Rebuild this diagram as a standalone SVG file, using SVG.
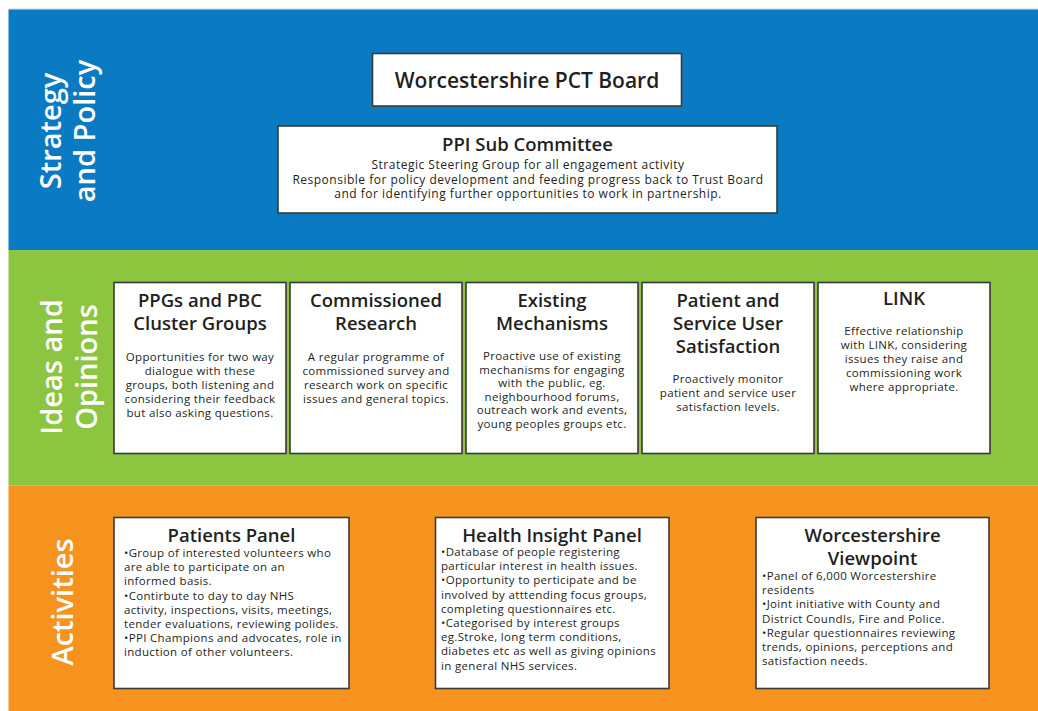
<svg xmlns="http://www.w3.org/2000/svg" width="1038" height="711" viewBox="0 0 1038 711">
  <style>
    .band-label { font-family: "Open Sans", "Liberation Sans", sans-serif; font-weight: 600; font-size: 29px; fill: #ffffff; text-anchor: middle; }
    .box { fill: #ffffff; stroke: #3a3a3a; stroke-width: 1.6; }
    .title { font-family: "Open Sans", "Liberation Sans", sans-serif; font-weight: 600; fill: #231f20; text-anchor: middle; }
    .t21 { font-size: 21px; }
    .t18 { font-size: 18.5px; }
    .body { font-family: "Open Sans", "Liberation Sans", sans-serif; font-weight: 400; fill: #231f20; }
    .b12 { font-size: 12px; letter-spacing: 0.5px; }
    .b11 { font-size: 11.5px; letter-spacing: 0.33px; }
    .mid { text-anchor: middle; }
  </style>

  <!-- background bands -->
  <g id="bands">
    <rect x="0" y="0" width="1038" height="711" fill="#ffffff"/>
    <line x1="8.5" y1="9" x2="1038" y2="9" stroke="#cfcfcf" stroke-width="1"/>
    <rect x="8.5" y="9.5" width="1029.5" height="240.5" fill="#0a7bc3"/>
    <rect x="8.5" y="250" width="1029.5" height="235.5" fill="#8cc540"/>
    <rect x="8.5" y="485.5" width="1029.5" height="225.5" fill="#f6921e"/>
  </g>

  <!-- band headings -->
  <g id="band-labels">
    <text class="band-label" transform="translate(61,131) rotate(-90)">Strategy</text>
    <text class="band-label" transform="translate(95,131) rotate(-90)">and Policy</text>
    <text class="band-label" transform="translate(62,367) rotate(-90)">Ideas and</text>
    <text class="band-label" transform="translate(97,367) rotate(-90)">Opinions</text>
    <text class="band-label" transform="translate(73,602) rotate(-90)">Activities</text>
  </g>

  <!-- connectors: none drawn in this chart -->
  <g id="connectors"/>

  <!-- Strategy and Policy -->
  <g id="pct-board">
    <rect class="box" x="372.5" y="53.5" width="309" height="52.5"/>
    <text class="title t21" x="527" y="88">Worcestershire PCT Board</text>
  </g>

  <g id="ppi-sub-committee">
    <rect class="box" x="278" y="126" width="499" height="87"/>
    <text class="title t18" x="527.5" y="150.5">PPI Sub Committee</text>
    <text class="body b12 mid" x="528" y="169">Strategic Steering Group for all engagement activity</text>
    <text class="body b12 mid" x="528" y="183.5">Responsible for policy development and feeding progress back to Trust Board</text>
    <text class="body b12 mid" x="528" y="198">and for identifying further opportunities to work in partnership.</text>
  </g>

  <!-- Ideas and Opinions -->
  <g id="ppgs-pbc">
    <rect class="box" x="114" y="282.5" width="172" height="171"/>
    <text class="title t18" x="200" y="307">PPGs and PBC</text>
    <text class="title t18" x="200" y="330">Cluster Groups</text>
    <text class="body b11 mid" x="200" y="361">Opportunities for two way</text>
    <text class="body b11 mid" x="200" y="375">dialogue with these</text>
    <text class="body b11 mid" x="200" y="389">groups, both listening and</text>
    <text class="body b11 mid" x="200" y="403">considering their feedback</text>
    <text class="body b11 mid" x="200" y="417">but also asking questions.</text>
  </g>

  <g id="commissioned-research">
    <rect class="box" x="290" y="282.5" width="172" height="171"/>
    <text class="title t18" x="376" y="307">Commissioned</text>
    <text class="title t18" x="376" y="330">Research</text>
    <text class="body b11 mid" x="376" y="361">A regular programme of</text>
    <text class="body b11 mid" x="376" y="375">commissioned survey and</text>
    <text class="body b11 mid" x="376" y="389">research work on specific</text>
    <text class="body b11 mid" x="376" y="403">issues and general topics.</text>
  </g>

  <g id="existing-mechanisms">
    <rect class="box" x="466" y="282.5" width="172" height="171"/>
    <text class="title t18" x="552" y="307">Existing</text>
    <text class="title t18" x="552" y="330">Mechanisms</text>
    <text class="body b11 mid" x="552" y="360">Proactive use of existing</text>
    <text class="body b11 mid" x="552" y="373.5">mechanisms for engaging</text>
    <text class="body b11 mid" x="552" y="387">with the public, eg.</text>
    <text class="body b11 mid" x="552" y="400.5">neighbourhood forums,</text>
    <text class="body b11 mid" x="552" y="414">outreach work and events,</text>
    <text class="body b11 mid" x="552" y="427.5">young peoples groups etc.</text>
  </g>

  <g id="patient-satisfaction">
    <rect class="box" x="642" y="282.5" width="172" height="171"/>
    <text class="title t18" x="728" y="307">Patient and</text>
    <text class="title t18" x="728" y="330">Service User</text>
    <text class="title t18" x="728" y="353">Satisfaction</text>
    <text class="body b11 mid" x="728" y="382.5">Proactively monitor</text>
    <text class="body b11 mid" x="728" y="396.5">patient and service user</text>
    <text class="body b11 mid" x="728" y="410.5">satisfaction levels.</text>
  </g>

  <g id="link">
    <rect class="box" x="818" y="282.5" width="172" height="171"/>
    <text class="title t18" x="904" y="305">LINK</text>
    <text class="body b11 mid" x="904" y="335">Effective relationship</text>
    <text class="body b11 mid" x="904" y="349">with LINK, considering</text>
    <text class="body b11 mid" x="904" y="363">issues they raise and</text>
    <text class="body b11 mid" x="904" y="377">commissioning work</text>
    <text class="body b11 mid" x="904" y="391">where appropriate.</text>
  </g>

  <!-- Activities -->
  <g id="patients-panel">
    <rect class="box" x="114" y="517.5" width="235" height="171"/>
    <text class="title t18" x="231.5" y="541.5">Patients Panel</text>
    <text class="body b11" x="124" y="557">•Group of interested volunteers who</text>
    <text class="body b11" x="124" y="571.2">are able to participate on an</text>
    <text class="body b11" x="124" y="585.4">informed basis.</text>
    <text class="body b11" x="124" y="599.6">•Contirbute to day to day NHS</text>
    <text class="body b11" x="124" y="613.8">activity, inspections, visits, meetings,</text>
    <text class="body b11" x="124" y="628">tender evaluations, reviewing polides.</text>
    <text class="body b11" x="124" y="642.2">•PPI Champions and advocates, role in</text>
    <text class="body b11" x="124" y="656.4">induction of other volunteers.</text>
  </g>

  <g id="health-insight-panel">
    <rect class="box" x="435.5" y="517.5" width="233.5" height="171"/>
    <text class="title t18" x="552" y="541.5">Health Insight Panel</text>
    <text class="body b11" x="441" y="556">•Database of people registering</text>
    <text class="body b11" x="441" y="570.2">particular interest in health issues.</text>
    <text class="body b11" x="441" y="584.4">•Opportunity to perticipate and be</text>
    <text class="body b11" x="441" y="598.6">involved by atttending focus groups,</text>
    <text class="body b11" x="441" y="612.8">completing questionnaires etc.</text>
    <text class="body b11" x="441" y="627">•Categorised by interest groups</text>
    <text class="body b11" x="441" y="641.2">eg.Stroke, long term conditions,</text>
    <text class="body b11" x="441" y="655.4">diabetes etc as well as giving opinions</text>
    <text class="body b11" x="441" y="669.6">in general NHS services.</text>
  </g>

  <g id="worcestershire-viewpoint">
    <rect class="box" x="756" y="517.5" width="233" height="171"/>
    <text class="title t18" x="872.5" y="542">Worcestershire</text>
    <text class="title t18" x="872.5" y="565">Viewpoint</text>
    <text class="body b11" x="762" y="580">•Panel of 6,000 Worcestershire</text>
    <text class="body b11" x="762" y="594.2">residents</text>
    <text class="body b11" x="762" y="608.4">•Joint initiative with County and</text>
    <text class="body b11" x="762" y="622.6">District Coundls, Fire and Police.</text>
    <text class="body b11" x="762" y="636.8">•Regular questionnaires reviewing</text>
    <text class="body b11" x="762" y="651">trends, opinions, perceptions and</text>
    <text class="body b11" x="762" y="665.2">satisfaction needs.</text>
  </g>
</svg>
